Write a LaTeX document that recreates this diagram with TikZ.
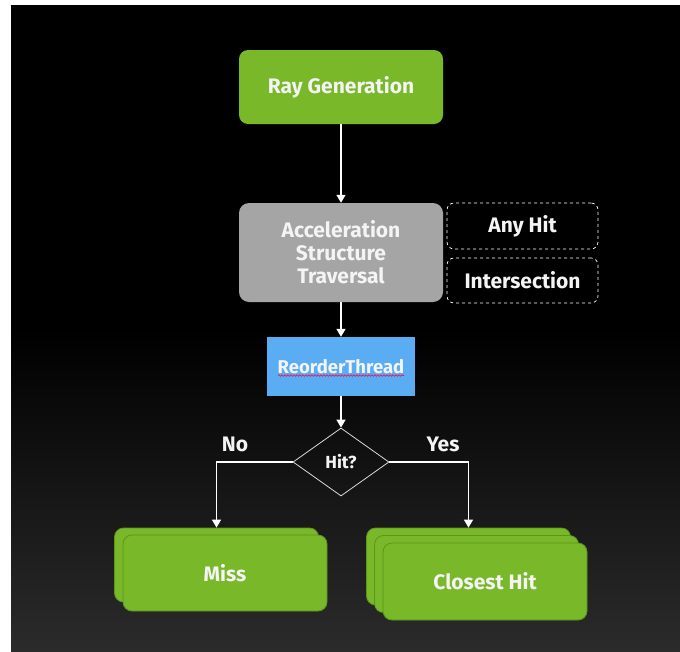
\documentclass[tikz,border=0pt]{standalone}
\usepackage{fontspec}
\setmainfont{Fira Sans}
\usetikzlibrary{arrows.meta,shapes.geometric,decorations.pathmorphing}
\definecolor{nvgreen}{HTML}{79B829}
\definecolor{nvgreendark}{HTML}{5C9420}
\definecolor{accgray}{HTML}{A5A5A5}
\definecolor{rblue}{HTML}{5AADF2}
\definecolor{bgbot}{HTML}{2B2B2B}
\definecolor{txt}{HTML}{F4F4F4}
\tikzset{
  greenbox/.style={fill=nvgreen, draw=nvgreendark, line width=0.8pt, rounded corners=9pt, text=txt, font=\fontsize{21}{23}\selectfont\bfseries, minimum width=204pt, inner sep=0pt},
  graybox/.style={fill=accgray, rounded corners=10pt, text=txt, font=\fontsize{21}{23}\selectfont\bfseries, align=center, minimum width=204pt, minimum height=99pt, inner sep=0pt},
  dashbox/.style={draw=white, dashed, line width=0.7pt, rounded corners=7pt, text=txt, font=\fontsize{21}{23}\selectfont\bfseries, minimum width=151pt, inner sep=0pt},
  bluebox/.style={fill=rblue, text=txt, font=\fontsize{18.5}{20}\selectfont\bfseries, minimum width=148pt, minimum height=59pt, inner sep=0pt},
  hitdia/.style={diamond, draw=white!85!black, line width=0.8pt, text=txt, font=\fontsize{17.5}{18}\selectfont\bfseries, minimum width=96pt, minimum height=68pt, inner sep=0pt},
  arr/.style={draw=white, line width=1.4pt, -{Triangle[length=8pt,width=9pt]}},
  lbl/.style={text=txt, font=\fontsize{21}{22}\selectfont\bfseries}
}
\begin{document}
\begin{tikzpicture}[x=1pt,y=-1pt]
\useasboundingbox (0,0) rectangle (680,651);
\fill[white] (0,0) rectangle (680,651);
\fill[black] (11,5) rectangle (680,651);
\shade[top color=black, bottom color=bgbot] (11,330) rectangle (680,651);

\node[greenbox, draw=none, minimum height=74pt] (ray) at (341,87) {Ray Generation};
\node[graybox] (acc) at (341,252.5) {Acceleration\\Structure\\Traversal};
\node[dashbox, minimum height=46pt] (any) at (522.5,226) {Any Hit};
\node[dashbox, minimum height=45pt] (isect) at (522.5,280.5) {Intersection};
\node[bluebox] (reorder) at (341,366.5) {ReorderThread};
\draw[red!70!magenta, line width=0.6pt, decorate, decoration={snake, amplitude=0.8pt, segment length=3pt}] (278,375.5) -- (404,375.5);
\node[hitdia] (hit) at (341,462) {Hit?};

\node[greenbox, minimum height=74pt] (missb) at (216.5,565) {};
\node[greenbox, minimum height=76pt] (miss) at (225,573) {Miss};

\node[greenbox, minimum height=77pt] (chb) at (468.5,566.5) {};
\node[greenbox, minimum height=77pt] (chm) at (476.5,574) {};
\node[greenbox, minimum height=77pt] (ch) at (485,581.5) {Closest Hit};

\draw[arr] (ray) -- (acc);
\draw[arr] (acc) -- (reorder);
\draw[arr] (reorder) -- (hit);
\draw[arr] (hit.west) -| (missb.north);
\draw[arr] (hit.east) -| (chb.north);

\node[lbl] (no) at (235,444) {No};
\node[lbl] (yes) at (443,444) {Yes};
\end{tikzpicture}
\end{document}
